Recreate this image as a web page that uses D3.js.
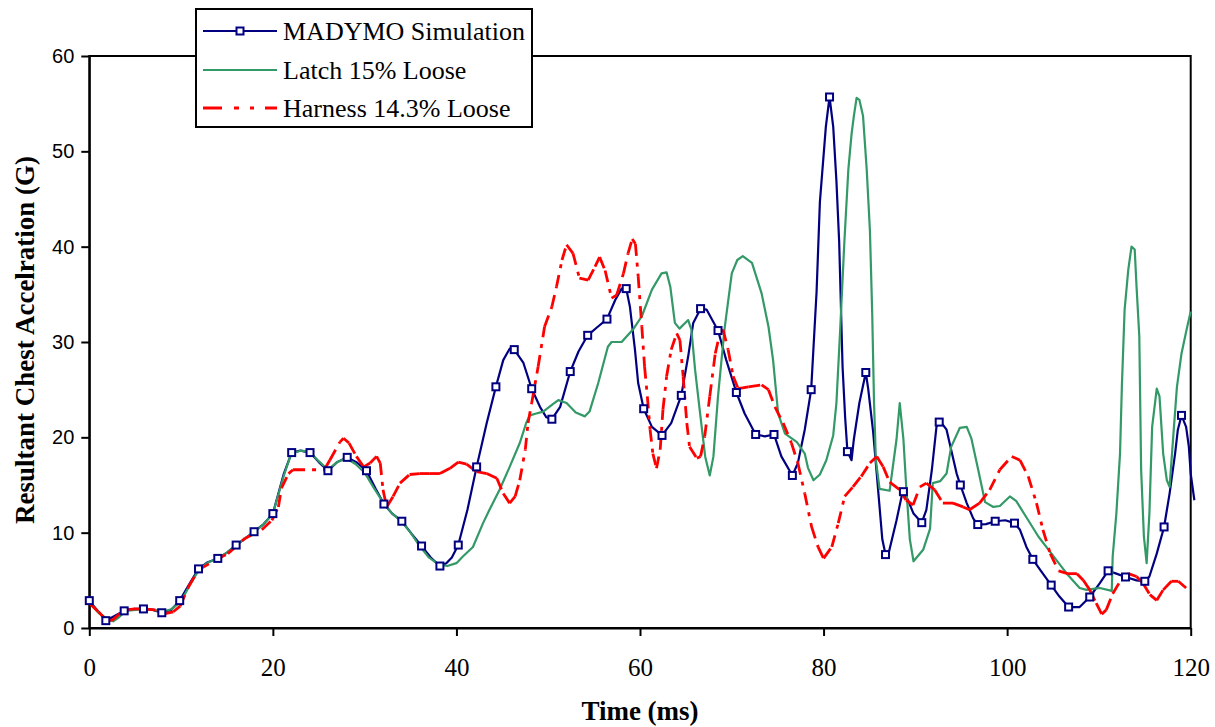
<!DOCTYPE html>
<html><head><meta charset="utf-8">
<script src="https://cdn.jsdelivr.net/npm/d3@7"></script>
<style>body{margin:0;background:#fff}</style>
</head><body>
<svg id="c" width="1215" height="727"></svg>
<script>
// ---------- data ----------
const xTicks = [0, 20, 40, 60, 80, 100, 120];
const yTicks = [0, 10, 20, 30, 40, 50, 60];
const seriesNames = ["MADYMO Simulation", "Latch 15% Loose", "Harness 14.3% Loose"];
const xTitle = "Time (ms)";
const yTitle = "Resultant Chest Accelration (G)";

const madymoTime = [0,1.8,3.8,4.9,5.9,6.9,7.9,8.9,9.85,10.9,11.9,12.9,14.0,15.0,16.0,17.0,17.95,19.0,20.0,21.2,22.05,23.0,24.05,25.0,26.0,27.0,28.1,29.1,30.2,31.2,32.1,33.0,34.05,35.1,36.2,37.2,38.2,38.9,39.5,40.2,41.2,42.2,43.3,44.3,45.1,45.8,46.3,47.3,48.2,49.1,49.8,50.4,51.3,52.4,53.3,54.3,55.4,56.4,57.3,58.0,58.5,58.9,59.45,59.8,60.4,61.3,62.4,63.4,64.5,65.25,65.8,66.6,67.25,68.5,69.4,70.5,71.4,72.6,73.6,74.6,75.4,76.6,77.2,77.95,78.65,79.24,79.6,80.25,80.65,81.05,81.4,81.7,82.07,82.35,82.6,83.05,83.3,83.9,84.6,84.86,85.4,85.8,86.1,86.4,86.75,87.0,87.95,88.5,88.7,89.2,89.8,90.7,91.2,91.8,92.3,92.7,93.4,93.9,94.5,94.9,95.6,96.3,96.8,97.7,98.7,99.8,100.8,101.4,102.1,102.8,103.6,104.8,105.7,106.7,107.9,109.0,110.1,111.0,111.9,112.9,114.1,115.0,115.5,116.3,117.1,117.7,118.3,118.6,119.0,119.5,119.8,120.0,120.4];
const madymoValue = [2.87,0.77,1.8,2.0,2.0,1.9,1.6,1.9,2.87,4.6,6.2,6.9,7.3,7.9,8.7,9.4,10.1,10.9,12.0,16.2,18.4,18.6,18.4,17.4,16.5,17.4,17.9,17.4,16.5,14.6,13.0,12.0,11.2,9.9,8.6,7.4,6.5,6.8,7.4,8.7,12.4,16.9,21.5,25.3,28.1,29.3,29.2,27.8,25.1,23.2,22.1,21.9,23.2,26.9,29.0,30.7,31.6,32.4,34.4,35.6,35.6,33.7,29.2,25.7,23.0,21.1,20.2,21.5,24.4,28.5,32.0,33.5,33.4,31.2,28.1,24.7,22.5,20.3,20.1,20.3,18.0,16.0,17.3,20.8,25.0,35.3,44.7,52.6,55.7,52.6,46.9,40.5,27.4,22.1,18.5,17.6,19.8,23.6,26.8,25.1,20.6,16.1,12.7,9.3,7.7,7.5,11.3,13.8,14.3,13.4,12.0,11.05,12.4,16.6,21.1,21.7,20.8,18.7,16.2,15.0,13.1,11.5,10.85,10.9,11.2,11.3,11.0,10.3,8.5,7.2,6.1,4.5,3.3,2.2,2.2,3.25,4.7,6.0,5.7,5.35,5.0,4.9,5.4,7.8,10.6,14.1,18.3,20.8,22.3,21.1,19.0,16.2,13.4];

const markerTime = [0,1.8,3.8,5.9,7.9,9.85,11.9,14.0,16.0,17.95,20.0,22.05,24.05,26.0,28.1,30.2,32.1,34.05,36.2,38.2,40.2,42.2,44.3,46.3,48.2,50.4,52.4,54.3,56.4,58.5,60.4,62.4,64.5,66.6,68.5,70.5,72.6,74.6,76.6,78.65,80.65,82.6,84.6,86.75,88.7,90.7,92.6,94.9,96.8,98.7,100.8,102.8,104.8,106.7,109.0,111.0,112.9,115.0,117.1,119.0];
const markerValue = [2.87,0.77,1.8,2.0,1.6,2.87,6.2,7.3,8.7,10.1,12.0,18.4,18.4,16.5,17.9,16.5,13.0,11.2,8.6,6.5,8.7,16.9,25.3,29.2,25.1,21.9,26.9,30.7,32.4,35.6,23.0,20.2,24.4,33.5,31.2,24.7,20.3,20.3,16.0,25.0,55.7,18.5,26.8,7.7,14.3,11.05,21.6,15.0,10.85,11.2,11.0,7.2,4.5,2.2,3.25,6.0,5.35,4.9,10.6,22.3];

const latchTime = [0,1.0,2.0,2.6,3.2,4.0,6.0,7.0,8.0,9.0,10.0,11.0,12.0,13.0,14.0,15.0,16.0,17.0,18.0,19.0,20.0,21.2,22.0,23.0,24.0,25.0,26.0,27.0,28.0,29.0,30.0,31.0,32.0,33.0,34.0,35.0,36.0,37.0,38.0,39.0,40.0,40.7,41.8,42.9,43.6,44.7,45.8,46.9,47.6,48.0,48.7,49.45,50.4,51.1,52.0,53.0,54.0,54.5,55.45,56.5,56.9,58.0,59.3,60.2,61.3,62.35,62.9,63.3,63.8,64.3,65.25,65.6,66.0,66.5,67.1,67.6,68.0,68.5,69.2,70.0,70.6,71.2,72.2,73.25,74.0,74.5,75.05,75.8,77.1,77.95,78.3,78.9,79.6,80.3,81.05,81.4,81.8,82.25,82.7,83.05,83.3,83.6,83.9,84.3,84.7,85.05,85.3,85.5,85.7,86.1,87.2,87.95,88.3,88.7,89.0,89.4,89.8,90.85,91.6,91.9,92.7,93.4,93.9,94.85,95.6,96.1,96.8,97.6,98.5,99.2,100.3,101.0,102.3,103.4,105.0,106.5,107.9,108.65,110.1,111.4,111.5,111.9,112.3,112.5,112.8,113.2,113.55,113.9,114.1,114.4,114.6,114.9,115.2,115.5,115.8,116.3,116.6,117.0,117.4,117.7,118.1,118.5,119.0,119.55,120.0];
const latchValue = [2.7,1.6,0.9,0.7,1.1,1.8,2.0,1.9,1.7,2.0,2.8,4.6,6.2,6.9,7.3,7.9,8.7,9.4,10.1,10.9,12.0,16.0,18.3,18.6,18.5,17.5,16.6,17.4,17.8,17.2,16.3,14.7,13.2,12.0,11.2,10.0,8.6,7.4,6.7,6.5,6.8,7.5,8.5,11.0,12.4,14.5,16.9,19.4,21.5,22.3,22.5,22.7,23.4,23.9,23.6,22.6,22.2,22.7,25.7,29.5,30.0,30.0,31.4,32.7,35.5,37.2,37.3,35.8,32.0,31.4,32.3,31.3,27.1,22.9,18.0,16.0,18.0,24.3,31.3,37.2,38.6,39.0,38.3,35.1,31.6,28.1,22.5,20.4,19.5,18.3,16.8,15.5,16.1,17.6,20.2,23.6,31.1,40.2,48.1,51.8,53.7,55.6,55.4,53.7,48.1,41.7,33.0,23.6,17.6,14.6,14.4,19.8,23.6,19.8,14.9,9.3,7.0,8.2,10.4,15.2,15.4,16.2,19.0,21.0,21.1,19.9,16.8,13.2,12.7,12.8,13.8,13.3,11.3,9.6,7.6,5.7,4.2,4.0,4.2,3.9,7.5,12.0,18.3,25.3,33.4,37.6,40.0,39.7,35.8,30.6,16.6,9.6,6.8,12.0,21.1,25.1,24.3,18.3,15.5,14.8,20.1,25.3,28.8,31.3,33.2];

const harnessTime = [0,1.0,1.7,2.45,3.2,3.9,5.0,5.9,7.35,8.25,9.15,9.9,10.8,11.9,13.7,15.1,16.95,18.8,19.9,20.6,20.95,21.7,22.2,25.6,26.2,27.3,27.7,28.3,29.1,29.9,30.6,31.3,31.7,32.0,32.4,33.1,33.85,34.9,36.0,37.1,38.2,39.3,40.2,41.1,42.2,43.3,44.4,45.1,45.8,46.4,46.9,47.5,47.8,48.2,48.9,49.6,50.4,50.9,51.5,52.0,52.7,53.4,54.35,55.1,55.6,56.2,56.9,57.45,58.2,58.7,59.15,59.5,59.8,60.2,60.5,60.8,61.1,61.4,61.8,62.2,62.5,62.9,63.4,64.0,64.35,64.7,65.1,65.4,66.2,66.6,67.05,67.6,68.2,68.7,69.05,69.6,70.15,70.7,71.8,73.25,74.0,74.7,75.6,76.5,77.2,77.95,78.7,79.4,80.0,80.9,81.6,82.3,83.2,84.1,85.05,85.8,86.5,87.2,88.3,89.0,89.75,90.5,91.2,92.1,93.0,94.1,95.2,95.9,97.0,98.1,99.2,100.5,101.4,102.3,103.2,103.9,104.7,105.6,106.6,107.6,108.3,109.0,109.7,110.3,110.8,111.5,112.5,113.2,114.1,114.8,115.55,116.3,117.0,117.9,118.65,119.5];
const harnessValue = [2.6,1.7,1.0,0.77,1.4,1.9,2.0,2.0,1.9,1.5,1.7,2.3,4.3,6.1,7.1,7.8,9.4,10.3,11.3,12.7,14.7,16.2,16.6,16.6,17.6,19.5,19.9,19.4,18.0,16.9,17.3,18.0,17.3,14.5,12.7,13.8,15.2,16.1,16.2,16.2,16.2,16.75,17.4,17.2,16.4,16.2,15.7,14.1,13.1,13.8,15.5,18.7,21.5,23.6,27.4,31.6,33.7,35.8,38.6,40.2,39.3,36.7,36.5,37.9,38.9,37.5,34.6,34.9,37.2,39.3,40.8,40.3,36.9,31.6,27.4,24.3,20.8,18.3,16.75,18.7,22.9,26.4,29.2,30.9,30.2,26.4,21.5,19.0,17.8,18.0,20.1,24.3,28.8,30.9,31.3,29.2,26.4,25.1,25.3,25.5,25.0,23.2,21.5,19.4,17.3,14.1,10.6,8.5,7.3,8.5,11.0,13.8,14.8,15.9,17.3,18.0,16.9,15.3,14.5,13.4,12.9,14.8,15.2,14.5,13.1,13.1,12.7,12.4,13.1,14.5,16.6,18.0,17.6,15.9,13.1,10.3,7.8,6.0,5.7,5.7,5.0,4.0,2.6,1.45,1.9,3.6,5.2,5.7,5.4,4.7,3.5,2.9,4.0,4.9,4.9,4.2];

// ---------- styles ----------
const NAVY = "#000080", GREEN = "#339966", RED = "#FF0000";
const SERIF = "'Liberation Serif','Times New Roman',serif";
const SANS = "'Liberation Sans',Arial,sans-serif";
const RED_DASH_PLOT = "12,7,4,7";
const RED_DASH_LEGEND = "19,12,5,11,4,11";

const svg = d3.select("#c");
const x = d3.scaleLinear().domain([0, 120]).range([89.3, 1190.7]);
const y = d3.scaleLinear().domain([0, 60]).range([628, 56]);

const zip = (t, v) => t.map((d, i) => [d, v[i]]);
const line = d3.line().x(d => x(d[0])).y(d => y(d[1]));

// frame
svg.append("rect").attr("x", x(0)).attr("y", y(60)).attr("width", x(120) - x(0)).attr("height", y(0) - y(60))
  .attr("fill", "none").attr("stroke", "#000").attr("stroke-width", 2);

// axes
const gx = svg.append("g").attr("transform", `translate(0,${y(0)})`)
  .call(d3.axisBottom(x).tickValues(xTicks).tickSize(8).tickSizeOuter(0).tickPadding(22));
gx.attr("font-family", SERIF);
gx.select(".domain").attr("stroke-width", 2);
gx.selectAll(".tick line").attr("stroke-width", 2);
gx.selectAll(".tick text").attr("font-family", SERIF).attr("font-size", 25).attr("fill", "#000");

const gy = svg.append("g").attr("transform", `translate(${x(0)},0)`)
  .call(d3.axisLeft(y).tickValues(yTicks).tickSize(8).tickSizeOuter(0).tickPadding(7));
gy.attr("font-family", SANS);
gy.select(".domain").attr("stroke-width", 2);
gy.selectAll(".tick line").attr("stroke-width", 2);
gy.selectAll(".tick text").attr("font-family", SANS).attr("font-size", 20).attr("fill", "#000");

// series
svg.append("path").datum(zip(madymoTime, madymoValue)).attr("d", line)
  .attr("fill", "none").attr("stroke", NAVY).attr("stroke-width", 2.2).attr("stroke-linejoin", "round");
svg.append("path").datum(zip(latchTime, latchValue)).attr("d", line)
  .attr("fill", "none").attr("stroke", GREEN).attr("stroke-width", 2.2).attr("stroke-linejoin", "round");
svg.append("g").selectAll("line").data(d3.pairs(zip(harnessTime, harnessValue))).join("line")
  .attr("x1", d => x(d[0][0])).attr("y1", d => y(d[0][1]))
  .attr("x2", d => x(d[1][0])).attr("y2", d => y(d[1][1]))
  .attr("stroke", RED).attr("stroke-width", 2.8).attr("stroke-dasharray", RED_DASH_PLOT);
svg.append("g").selectAll("rect").data(zip(markerTime, markerValue)).join("rect")
  .attr("x", d => x(d[0]) - 3.5).attr("y", d => y(d[1]) - 3.5).attr("width", 7).attr("height", 7)
  .attr("fill", "#fff").attr("stroke", NAVY).attr("stroke-width", 2);

// axis titles
svg.append("text").attr("x", 640).attr("y", 720).attr("text-anchor", "middle")
  .attr("font-family", SERIF).attr("font-weight", "bold").attr("font-size", 27).text(xTitle);
svg.append("text").attr("transform", `translate(34,340) rotate(-90)`).attr("text-anchor", "middle")
  .attr("font-family", SERIF).attr("font-weight", "bold").attr("font-size", 27).text(yTitle);

// legend
const lg = svg.append("g");
lg.append("rect").attr("x", 196).attr("y", 9).attr("width", 336).attr("height", 118)
  .attr("fill", "#fff").attr("stroke", "#000").attr("stroke-width", 2);
const rowsY = [31, 70, 108];
const colors = [NAVY, GREEN, RED];
seriesNames.forEach((name, i) => {
  const ly = rowsY[i];
  lg.append("line").attr("x1", 203).attr("x2", 277).attr("y1", ly).attr("y2", ly)
    .attr("stroke", colors[i]).attr("stroke-width", i === 2 ? 2.8 : 2.2)
    .attr("stroke-dasharray", i === 2 ? RED_DASH_LEGEND : null);
  if (i === 0) lg.append("rect").attr("x", 236.5).attr("y", ly - 3.5).attr("width", 7).attr("height", 7)
    .attr("fill", "#fff").attr("stroke", NAVY).attr("stroke-width", 2);
  lg.append("text").attr("x", 283).attr("y", ly + 9).attr("font-family", SERIF).attr("font-size", 26)
    .attr("fill", "#000").text(name);
});
</script>
</body></html>
